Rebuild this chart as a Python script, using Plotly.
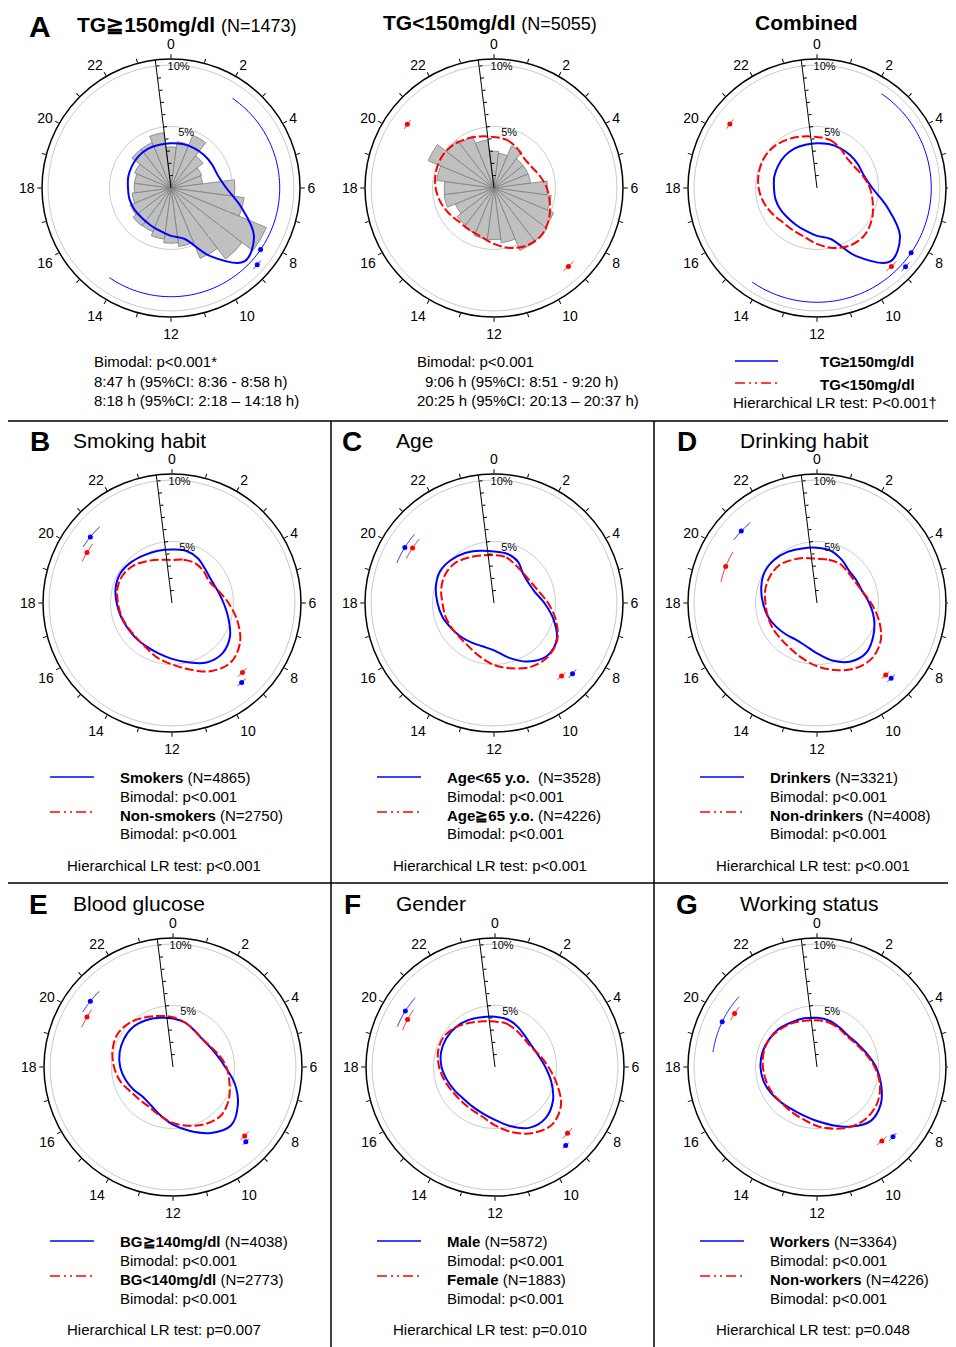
import numpy as np
import plotly.graph_objects as go

# page is rendered with an 8px body margin; all positions below are page pixels
PAGE_W, PAGE_H = 956, 1347
OX, OY = 8, 8
W, H = PAGE_W - OX, PAGE_H - OY
R = 129          # px radius of outer circle
RMAX = 10.5      # % at outer circle
FONT = "Liberation Sans, Arial, sans-serif"
BLUE = "#0000ff"
RED = "#ff0000"

HOURS = list(range(24))
HOUR_LABELS = [str(h) if h % 2 == 0 else "" for h in HOURS]
# right-hand column: the "6" label falls outside the page in the original
HOUR_LABELS_RIGHT = [("" if h == 6 else s) for h, s in zip(HOURS, HOUR_LABELS)]

# ---- density curves (% of subjects, read at each clock hour 0..23) ----
tg_hi  = [3.65, 3.7, 3.75, 3.8, 3.85, 3.95, 4.5, 5.9, 7.8, 8.45, 6.4, 4.3,
          3.9, 3.6, 3.45, 3.4, 3.45, 3.5, 3.5, 3.6, 3.65, 3.7, 3.7, 3.65]
tg_lo  = [4.15, 4.05, 3.75, 3.45, 3.5, 3.85, 4.3, 4.7, 5.15, 5.45, 5.4, 5.05,
          4.55, 4.1, 3.95, 3.95, 4.2, 4.5, 4.75, 4.9, 4.95, 4.85, 4.6, 4.35]
smokers    = [4.35, 4.4, 4.2, 3.85, 3.7, 3.85, 4.2, 4.75, 5.45, 5.8, 5.6, 5.0,
              4.55, 4.25, 4.1, 4.1, 4.15, 4.3, 4.5, 4.75, 4.85, 4.7, 4.5, 4.4]
nonsmokers = [3.5, 3.65, 3.75, 3.65, 3.5, 3.9, 4.6, 5.5, 6.4, 6.8, 6.4, 5.6,
              5.0, 4.6, 4.2, 4.05, 4.1, 4.25, 4.4, 4.6, 4.6, 4.35, 3.95, 3.65]
age_lt65   = [4.2, 4.15, 3.9, 3.35, 3.25, 3.45, 4.1, 5.0, 5.9, 6.1, 5.5, 4.6,
              3.85, 3.65, 3.7, 3.85, 4.05, 4.35, 4.6, 4.9, 5.1, 4.95, 4.7, 4.4]
age_ge65   = [3.9, 3.85, 3.55, 3.4, 3.45, 3.75, 4.4, 5.2, 5.95, 6.2, 6.0, 5.5,
              5.05, 4.5, 4.1, 3.95, 4.0, 4.1, 4.2, 4.45, 4.6, 4.55, 4.25, 4.0]
drinkers   = [4.5, 4.4, 4.05, 3.7, 3.7, 3.8, 4.25, 4.8, 5.3, 5.7, 5.5, 4.85,
              4.1, 3.6, 3.45, 3.6, 3.85, 4.15, 4.4, 4.7, 4.95, 4.95, 4.8, 4.6]
nondrinkers = [3.6, 3.65, 3.7, 3.55, 3.55, 3.8, 4.4, 5.2, 6.0, 6.35, 6.15, 5.65,
               5.15, 4.65, 4.3, 4.15, 4.15, 4.15, 4.2, 4.35, 4.4, 4.35, 4.05, 3.8]
bg_hi      = [3.95, 3.75, 3.45, 3.3, 3.4, 3.7, 4.25, 5.2, 6.1, 6.7, 6.2, 5.4,
              4.7, 4.05, 3.6, 3.45, 3.7, 4.0, 4.3, 4.5, 4.6, 4.6, 4.4, 4.15]
bg_lo      = [4.05, 3.75, 3.45, 3.3, 3.45, 3.85, 4.35, 4.75, 5.25, 5.55, 5.35, 4.95,
              4.55, 4.1, 3.8, 3.8, 4.0, 4.45, 4.8, 5.1, 5.25, 5.05, 4.65, 4.3]
male       = [4.1, 4.0, 3.75, 3.5, 3.45, 3.65, 4.1, 4.75, 5.45, 5.85, 5.7, 5.0,
              4.3, 3.9, 3.7, 3.65, 3.8, 4.05, 4.35, 4.55, 4.6, 4.55, 4.4, 4.2]
female     = [3.7, 3.65, 3.45, 3.3, 3.35, 3.75, 4.35, 5.2, 6.2, 6.6, 6.2, 5.5,
              4.75, 4.15, 3.95, 3.9, 4.0, 4.25, 4.55, 4.8, 4.85, 4.55, 4.15, 3.85]
workers    = [4.0, 3.9, 3.7, 3.6, 3.8, 4.2, 4.8, 5.4, 6.0, 6.2, 5.6, 4.9,
              4.4, 4.1, 4.0, 4.1, 4.3, 4.5, 4.6, 4.6, 4.5, 4.4, 4.2, 4.1]
nonworkers = [3.8, 3.75, 3.6, 3.5, 3.7, 4.1, 4.7, 5.3, 5.7, 5.8, 5.6, 5.2,
              4.8, 4.4, 4.2, 4.1, 4.2, 4.3, 4.4, 4.5, 4.5, 4.3, 4.1, 3.9]

# ---- histograms (% of subjects per clock hour) ----
hist_tg_hi = [3.35, 3.8, 4.65, 3.3, 2.7, 2.6, 5.2, 6.0, 8.4, 7.3, 6.2, 4.8,
              4.5, 4.2, 3.85, 3.9, 3.6, 3.2, 3.0, 3.0, 3.2, 4.0, 4.0, 4.55]
hist_tg_lo = [3.0, 2.85, 3.7, 3.0, 3.0, 3.0, 4.35, 4.7, 5.25, 5.45, 5.5, 4.5,
              4.2, 4.2, 4.0, 3.8, 3.4, 4.1, 4.05, 4.7, 5.8, 4.9, 4.55, 3.95]

# ---- peak times with 95% CI: (peak h, lower h, upper h, radius %) ----
ci_tg_hi_1 = [(8.78, 8.60, 8.97, 9.4), (8.30, 2.30, 14.30, 8.85)]
ci_tg_lo_1 = [(9.10, 8.85, 9.33, 8.8), (20.42, 20.22, 20.62, 8.75)]
ci_tg_hi_3 = [(8.78, 8.60, 8.97, 9.65), (8.30, 2.30, 14.30, 9.3)]
ci_tg_lo_3 = [(9.10, 8.85, 9.33, 8.8), (20.42, 20.22, 20.62, 8.8)]
ci_smk     = [(20.6, 20.15, 21.1, 8.55), (9.25, 9.05, 9.45, 8.6)]
ci_nonsmk  = [(20.05, 19.65, 20.45, 8.05), (8.97, 8.75, 9.2, 8.05)]
ci_lt65    = [(20.13, 19.5, 20.72, 8.55), (8.8, 8.6, 9.0, 8.6)]
ci_ge65    = [(20.27, 19.8, 20.7, 8.0), (9.15, 8.95, 9.35, 8.1)]
ci_drk     = [(20.9, 20.48, 21.35, 8.5), (9.03, 8.85, 9.22, 8.6)]
ci_nondrk  = [(19.45, 18.82, 20.09, 8.0), (9.09, 8.9, 9.28, 8.1)]
ci_bghi    = [(20.57, 20.09, 21.05, 8.6), (9.05, 8.9, 9.2, 8.5)]
ci_bglo    = [(20.01, 19.57, 20.35, 8.1), (8.93, 8.7, 9.15, 8.1)]
ci_male    = [(20.13, 19.5, 20.73, 8.6), (9.2, 9.05, 9.35, 8.6)]
ci_female  = [(19.9, 19.45, 20.33, 8.1), (8.83, 8.55, 9.1, 8.0)]
ci_wrk     = [(19.7, 18.54, 20.8, 8.55), (8.84, 8.65, 9.03, 8.4)]
ci_nonwrk  = [(20.2, 19.9, 20.5, 8.0), (9.25, 9.0, 9.5, 8.0)]

# radial tick labels: (text, r %, theta deg) placed beside the tilted radial axis
radial_labels = [("5%", 4.6, 15.5), ("10%", 9.85, 3.6)]

# ---- panels: (center px, blue curve, red curve, histogram, blue CI, red CI, right column) ----
panels = [
    ((171, 188), tg_hi, None, hist_tg_hi, ci_tg_hi_1, None, False),
    ((494, 188), None, tg_lo, hist_tg_lo, None, ci_tg_lo_1, False),
    ((817, 188), tg_hi, tg_lo, None, ci_tg_hi_3, ci_tg_lo_3, True),
    ((172, 603), smokers, nonsmokers, None, ci_smk, ci_nonsmk, False),
    ((494, 603), age_lt65, age_ge65, None, ci_lt65, ci_ge65, False),
    ((817, 603), drinkers, nondrinkers, None, ci_drk, ci_nondrk, True),
    ((173, 1067), bg_hi, bg_lo, None, ci_bghi, ci_bglo, False),
    ((495, 1067), male, female, None, ci_male, ci_female, False),
    ((817, 1067), workers, nonworkers, None, ci_wrk, ci_nonwrk, True),
]

def fx(x):
    return (x - OX) / W

def fy(y):
    return 1 - (y - OY) / H

fig = go.Figure()
layout_polars = {}

def polar_layout(cx, cy, right):
    return dict(
        domain=dict(x=[fx(cx - R), fx(cx + R)], y=[fy(cy + R), fy(cy - R)]),
        bgcolor="white",
        angularaxis=dict(
            rotation=90, direction="clockwise", tickmode="array",
            tickvals=[h * 15 for h in HOURS],
            ticktext=HOUR_LABELS_RIGHT if right else HOUR_LABELS,
            ticks="outside", ticklen=4, tickwidth=1, tickcolor="black",
            showline=True, linecolor="black", linewidth=1.5, showgrid=False,
            tickfont=dict(size=14, color="black", family=FONT),
        ),
        radialaxis=dict(
            range=[0, RMAX], angle=97, tickmode="array",
            tickvals=list(range(1, 11)), showticklabels=False,
            ticks="outside", ticklen=3, tickwidth=1, tickcolor="black",
            showline=True, linecolor="black", linewidth=1, showgrid=False,
        ),
    )

def add_curve(vals, color, dash, sub):
    th = [h * 15 for h in HOURS] + [0]
    rr = list(vals) + [vals[0]]
    fig.add_trace(go.Scatterpolar(r=rr, theta=th, mode="lines", subplot=sub,
                                  line=dict(color=color, width=2, dash=dash, shape="spline", smoothing=1),
                                  showlegend=False, hoverinfo="skip"))

def add_ci(arcs, color, sub):
    for peak, lo, hi, rad in arcs:
        th = np.linspace(lo * 15, hi * 15, 120)
        fig.add_trace(go.Scatterpolar(r=[rad] * len(th), theta=th, mode="lines", subplot=sub,
                                      line=dict(color=color, width=1), showlegend=False, hoverinfo="skip"))
        fig.add_trace(go.Scatterpolar(r=[rad], theta=[peak * 15], mode="markers", subplot=sub,
                                      marker=dict(color=color, size=5), showlegend=False, hoverinfo="skip"))

for i, (cen, blue, red, hist, ciblue, cired, right) in enumerate(panels):
    sub = "polar" if i == 0 else f"polar{i + 1}"
    layout_polars[sub] = polar_layout(cen[0], cen[1], right)
    ring = np.linspace(0, 360, 241)
    for rv in (5, 10):
        fig.add_trace(go.Scatterpolar(r=[rv] * len(ring), theta=ring, mode="lines", subplot=sub,
                                      line=dict(color="#c8c8c8", width=1), showlegend=False, hoverinfo="skip"))
    if hist is not None:
        fig.add_trace(go.Barpolar(r=hist, theta=[h * 15 for h in HOURS], width=[15] * 24, subplot=sub,
                                  marker=dict(color="#c0c0c0", line=dict(color="#7f7f7f", width=0.8)),
                                  showlegend=False, hoverinfo="skip"))
    if blue is not None:
        add_curve(blue, BLUE, "solid", sub)
    if red is not None:
        add_curve(red, RED, "9px,3px", sub)
    if ciblue is not None:
        add_ci(ciblue, BLUE, sub)
    if cired is not None:
        add_ci(cired, RED, sub)
    fig.add_trace(go.Scatterpolar(r=[l[1] for l in radial_labels], theta=[l[2] for l in radial_labels],
                                  text=[l[0] for l in radial_labels], mode="text", subplot=sub,
                                  textfont=dict(size=11, color="black", family=FONT),
                                  showlegend=False, hoverinfo="skip"))

# ---- annotations ----
ann = []
def txt(x, y, s, size=15, anchor="left"):
    ann.append(dict(x=fx(x), y=fy(y), xref="paper", yref="paper", text=s, showarrow=False,
                    xanchor=anchor, yanchor="middle",
                    font=dict(size=size, family=FONT, color="black")))

shapes = []
def hline(x0, x1, y, color, dash="solid", width=1.5):
    shapes.append(dict(type="line", xref="paper", yref="paper", x0=fx(x0), x1=fx(x1),
                       y0=fy(y), y1=fy(y), line=dict(color=color, width=width, dash=dash)))
def vline(x, y0, y1):
    shapes.append(dict(type="line", xref="paper", yref="paper", x0=fx(x), x1=fx(x),
                       y0=fy(y0), y1=fy(y1), line=dict(color="black", width=1.5)))

DASHDOT = "10px,4px,2px,4px,2px,4px"

# Row A
txt(40, 27, "<b>A</b>", size=30, anchor="center")
txt(187, 24, "<b>TG≧150mg/dl</b> <span style='font-size:18px'>(N=1473)</span>", size=21, anchor="center")
txt(490, 22, "<b>TG&lt;150mg/dl</b> <span style='font-size:18px'>(N=5055)</span>", size=21, anchor="center")
txt(806, 22, "<b>Combined</b>", size=21, anchor="center")
txt(92, 362, "Bimodal: p&lt;0.001*")
txt(92, 381, "8:47 h (95%CI: 8:36 - 8:58 h)")
txt(92, 400, "8:18 h (95%CI: 2:18 – 14:18 h)")
txt(415, 362, "Bimodal: p&lt;0.001")
txt(423, 381, "9:06 h (95%CI: 8:51 - 9:20 h)")
txt(415, 400, "20:25 h (95%CI: 20:13 – 20:37 h)")
hline(735, 778, 361, BLUE)
hline(735, 778, 383, RED, DASHDOT)
txt(818, 362, "<b>TG≥150mg/dl</b>")
txt(818, 384, "<b>TG&lt;150mg/dl</b>")
txt(731, 403, "Hierarchical LR test: P&lt;0.001†")

# separators
hline(0, 956, 421, "black")
hline(0, 956, 883, "black")
vline(331, 421, 1347)
vline(654, 421, 1347)

groups = [
    # letter, letter x, title x, title, y, legend x0, blue label, red label, HLR p, HLR center
    ("B", 40, 71, "Smoking habit", 441, 50, "<b>Smokers</b> (N=4865)", "<b>Non-smokers</b> (N=2750)", "p&lt;0.001", 164),
    ("C", 352, 394, "Age", 441, 377, "<b>Age&lt;65 y.o.</b>  (N=3528)", "<b>Age≧65 y.o.</b> (N=4226)", "p&lt;0.001", 490),
    ("D", 687, 738, "Drinking habit", 441, 700, "<b>Drinkers</b> (N=3321)", "<b>Non-drinkers</b> (N=4008)", "p&lt;0.001", 813),
    ("E", 38, 71, "Blood glucose", 903, 50, "<b>BG≧140mg/dl</b> (N=4038)", "<b>BG&lt;140mg/dl</b> (N=2773)", "p=0.007", 164),
    ("F", 352, 394, "Gender", 903, 377, "<b>Male</b> (N=5872)", "<b>Female</b> (N=1883)", "p=0.010", 490),
    ("G", 687, 738, "Working status", 903, 700, "<b>Workers</b> (N=3364)", "<b>Non-workers</b> (N=4226)", "p=0.048", 813),
]
for letter, lx, tx, title, ty, x0, lb, lr, hp, hc in groups:
    txt(lx, ty + 1, f"<b>{letter}</b>", size=28, anchor="center")
    txt(tx, ty, title, size=21)
    base = 777 if ty < 600 else 1241
    hline(x0, x0 + 44, base, BLUE)
    hline(x0, x0 + 44, base + 35, RED, DASHDOT)
    txt(x0 + 68, base, lb)
    txt(x0 + 68, base + 19, "Bimodal: p&lt;0.001")
    txt(x0 + 68, base + 38, lr)
    txt(x0 + 68, base + 57, "Bimodal: p&lt;0.001")
    txt(hc, base + 88, f"Hierarchical LR test: {hp}", anchor="center")

fig.update_layout(
    width=W, height=H, autosize=False,
    margin=dict(l=0, r=0, t=0, b=0),
    paper_bgcolor="white", plot_bgcolor="white",
    showlegend=False,
    annotations=ann, shapes=shapes,
    font=dict(family=FONT, color="black"),
    **layout_polars,
)

fig.write_html("out.html")
